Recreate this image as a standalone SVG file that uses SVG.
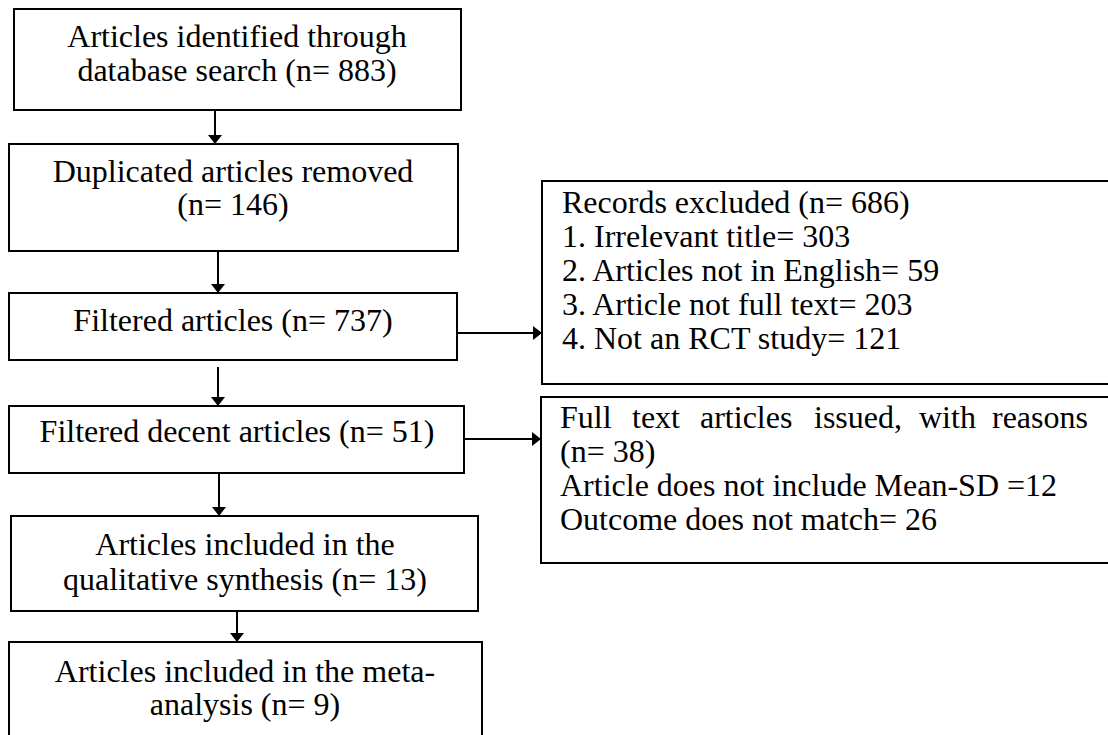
<svg xmlns="http://www.w3.org/2000/svg" width="1108" height="735" viewBox="0 0 1108 735">
<style>
.box{fill:#fff;stroke:#000;stroke-width:2}
.t{font-family:"Liberation Serif","Times New Roman",serif;font-size:32px;fill:#000}
.c{text-anchor:middle}
.conn{stroke:#000;stroke-width:2;fill:none;marker-end:url(#ah)}
</style>
<defs>
<marker id="ah" viewBox="0 0 9 14" refX="9" refY="7" markerWidth="9" markerHeight="14" markerUnits="userSpaceOnUse" orient="auto">
<path d="M0,0 L9,7 L0,14 z" fill="#000"/>
</marker>
</defs>
<rect width="1108" height="735" fill="#fff"/>
<g id="n1">
<rect class="box" x="14" y="9" width="447" height="101"/>
<text class="t c" x="237" y="47">Articles identified through</text>
<text class="t c" x="237" y="81">database search (n= 883)</text>
</g>
<g id="n2">
<rect class="box" x="9" y="144" width="449" height="107"/>
<text class="t c" x="233" y="182">Duplicated articles removed</text>
<text class="t c" x="233" y="215">(n= 146)</text>
</g>
<g id="n3">
<rect class="box" x="9" y="293" width="448" height="67"/>
<text class="t c" x="233" y="331">Filtered articles (n= 737)</text>
</g>
<g id="n4">
<rect class="box" x="9" y="406" width="455" height="67"/>
<text class="t c" x="237" y="442">Filtered decent articles (n= 51)</text>
</g>
<g id="n5">
<rect class="box" x="11" y="516" width="467" height="95"/>
<text class="t c" x="245" y="555">Articles included in the</text>
<text class="t c" x="245" y="590">qualitative synthesis (n= 13)</text>
</g>
<g id="n6">
<rect class="box" x="9" y="642" width="473" height="120"/>
<text class="t c" x="245" y="682">Articles included in the meta-</text>
<text class="t c" x="245" y="715">analysis (n= 9)</text>
</g>
<g id="n7">
<rect class="box" x="542" y="181" width="600" height="203"/>
<text class="t" x="562" y="213">Records excluded (n= 686)</text>
<text class="t" x="562" y="247">1. Irrelevant title= 303</text>
<text class="t" x="562" y="281">2. Articles not in English= 59</text>
<text class="t" x="562" y="315">3. Article not full text= 203</text>
<text class="t" x="562" y="349">4. Not an RCT study= 121</text>
</g>
<g id="n8">
<rect class="box" x="541" y="397" width="600" height="166"/>
<text class="t" y="428"><tspan x="560">Full</tspan><tspan x="632">text</tspan><tspan x="700">articles</tspan><tspan x="814">issued,</tspan><tspan x="919">with</tspan><tspan x="992">reasons</tspan></text>
<text class="t" x="560" y="462">(n= 38)</text>
<text class="t" x="560" y="496">Article does not include Mean-SD =12</text>
<text class="t" x="560" y="530">Outcome does not match= 26</text>
</g>
<g id="connectors">
<line class="conn" x1="215" y1="110" x2="215" y2="144"/>
<line class="conn" x1="218" y1="251" x2="218" y2="293"/>
<line class="conn" x1="218" y1="367" x2="218" y2="406"/>
<line class="conn" x1="219" y1="473" x2="219" y2="516"/>
<line class="conn" x1="237" y1="611" x2="237" y2="642"/>
<line class="conn" x1="457" y1="333" x2="542" y2="333"/>
<line class="conn" x1="464" y1="439" x2="541" y2="439"/>
</g>
</svg>
